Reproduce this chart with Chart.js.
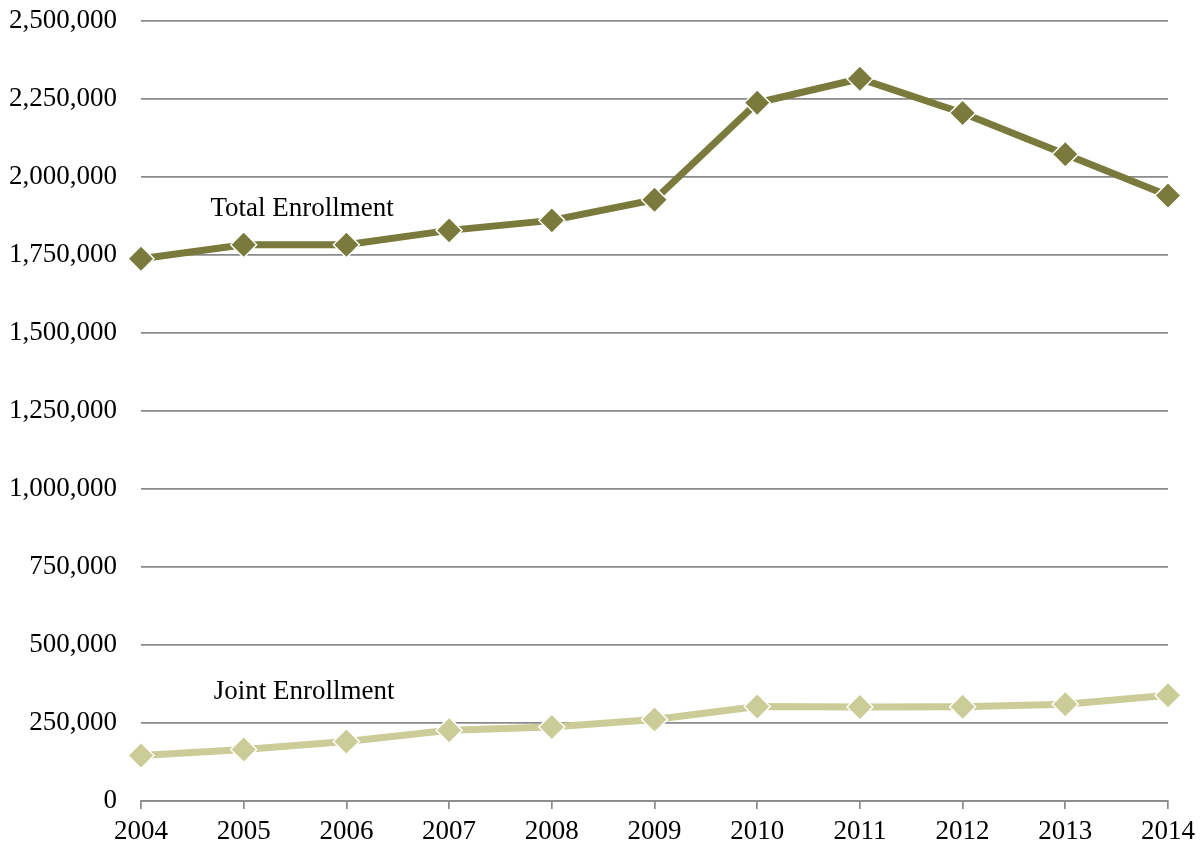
<!DOCTYPE html>
<html>
<head>
<meta charset="utf-8">
<script src="https://cdn.jsdelivr.net/npm/chart.js@4/dist/chart.umd.min.js"></script>
<style>
  html, body { margin: 0; padding: 0; background: #fff; }
  #wrap { width: 1200px; height: 848px; }
</style>
</head>
<body>
<div id="wrap"><canvas id="enrollChart" width="1200" height="848"></canvas></div>
<script>
const years = ["2004", "2005", "2006", "2007", "2008", "2009", "2010", "2011", "2012", "2013", "2014"];
const totalEnrollment = [1738000, 1783000, 1783000, 1829000, 1861000, 1927000, 2238000, 2315000, 2205000, 2073000, 1941000];
const jointEnrollment = [146000, 165000, 191000, 227000, 237000, 261000, 303000, 301000, 302000, 310000, 339000];
const yTicks = [0, 250000, 500000, 750000, 1000000, 1250000, 1500000, 1750000, 2000000, 2250000, 2500000];

const dark = "#797a3b";
const light = "#cccc99";
const gridGray = "#8a8a8a";
const serif = "'Liberation Serif', 'Times New Roman', serif";
const fontSize = 27;

// series names written next to the lines
const seriesLabels = {
  id: "seriesLabels",
  afterDatasetsDraw(chart) {
    const { ctx, scales } = chart;
    ctx.save();
    ctx.font = fontSize + "px " + serif;
    ctx.fillStyle = "#000";
    ctx.textAlign = "center";
    ctx.textBaseline = "middle";
    const x = (scales.x.getPixelForValue(1) + scales.x.getPixelForValue(2)) / 2;
    ctx.fillText("Total Enrollment", x + 7, scales.y.getPixelForValue(1897000));
    ctx.fillText("Joint Enrollment", x + 9, scales.y.getPixelForValue(349000));
    ctx.restore();
  }
};

new Chart(document.getElementById("enrollChart").getContext("2d"), {
  type: "line",
  data: {
    labels: years,
    datasets: [
      {
        label: "Total Enrollment",
        data: totalEnrollment,
        borderColor: dark,
        backgroundColor: dark,
        borderWidth: 7,
        pointStyle: "rectRot",
        pointRadius: 13,
        pointBorderColor: "#fff",
        pointBorderWidth: 1.5,
        pointBackgroundColor: dark,
        tension: 0
      },
      {
        label: "Joint Enrollment",
        data: jointEnrollment,
        borderColor: light,
        backgroundColor: light,
        borderWidth: 7,
        pointStyle: "rectRot",
        pointRadius: 13,
        pointBorderColor: "#fff",
        pointBorderWidth: 1.5,
        pointBackgroundColor: light,
        tension: 0
      }
    ]
  },
  options: {
    responsive: false,
    animation: false,
    clip: false,
    layout: { padding: { top: 21, right: 32, left: 0, bottom: 0 } },
    plugins: { legend: { display: false }, tooltip: { enabled: false } },
    scales: {
      x: {
        offset: false,
        grid: { drawOnChartArea: false, drawTicks: true, tickLength: 8, color: gridGray, lineWidth: 1.7 },
        border: { display: true, color: gridGray, width: 1.7 },
        ticks: { color: "#000", font: { family: serif, size: fontSize }, padding: 7, maxRotation: 0, autoSkip: false },
        afterFit(scale) {
          scale.height = 47;
          scale.paddingLeft = 0;
          scale.paddingRight = 0;
        }
      },
      y: {
        min: 0,
        max: 2500000,
        afterBuildTicks(scale) { scale.ticks = yTicks.map((v) => ({ value: v })); },
        grid: { drawTicks: false, color: gridGray, lineWidth: 1.7 },
        border: { display: false },
        ticks: {
          color: "#000",
          font: { family: serif, size: fontSize },
          padding: 24,
          callback: (v) => v.toLocaleString("en-US")
        },
        afterFit(scale) {
          scale.width = 141;
          scale.paddingTop = 0;
          scale.paddingBottom = 0;
        }
      }
    }
  },
  plugins: [seriesLabels]
});
</script>
</body>
</html>
